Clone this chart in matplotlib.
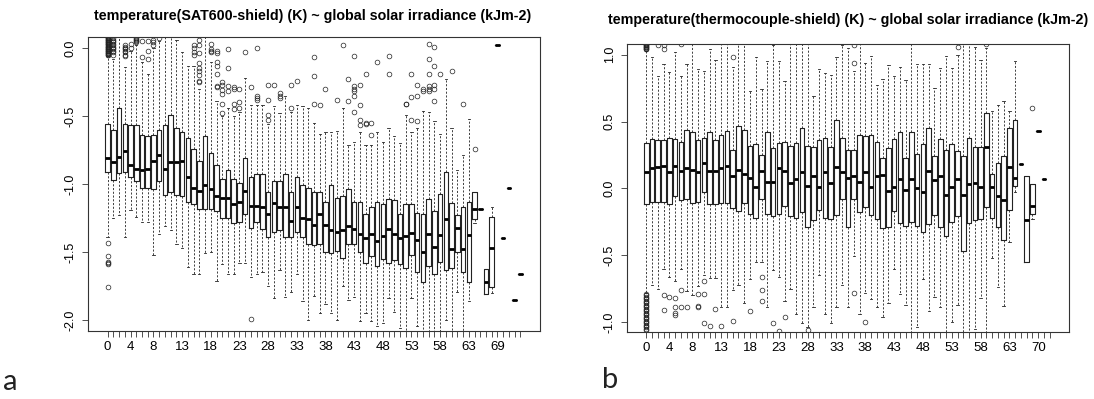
import matplotlib
matplotlib.use("Agg")
import matplotlib.pyplot as plt

plt.rcParams['font.family'] = ['Liberation Sans', 'DejaVu Sans']
plt.rcParams['axes.unicode_minus'] = False

# panel a: temperature(SAT600-shield) per irradiance level
a_levels = [str(v) for v in list(range(0, 68)) + [69, 70, 71, 72, 73]]
a_shown = ['0', '4', '8', '13', '18', '23', '28', '33', '38', '43', '48', '53', '58', '63', '69']
a_q3 = [-0.56, -0.60, -0.44, -0.56, -0.57, -0.57, -0.64, -0.65, -0.64, -0.60,
        -0.57, -0.49, -0.59, -0.62, -0.66, -0.74, -0.83, -0.65, -0.77, -0.86,
        -0.96, -0.90, -0.96, -0.99, -0.81, -0.95, -0.93, -0.93, -1.06, -0.98,
        -0.98, -0.93, -1.06, -0.95, -1.01, -1.03, -1.06, -1.06, -1.13, -1.01,
        -1.10, -1.09, -1.04, -1.13, -1.13, -1.22, -1.17, -1.13, -1.15, -1.11,
        -1.12, -1.22, -1.15, -1.15, -1.21, -1.22, -1.11, -1.20, -1.07, -0.91,
        -1.14, -1.23, -1.17, -1.13, -1.06, -1.18, -1.625, -1.24, 0.02, -1.40,
        -1.03, -1.85, -1.66]
a_med = [-0.81, -0.84, -0.80, -0.76, -0.86, -0.89, -0.90, -0.89, -0.83, -0.79,
         -0.89, -0.84, -0.84, -0.83, -0.95, -1.03, -1.05, -1.01, -1.04, -1.09,
         -1.10, -1.10, -1.15, -1.13, -1.05, -1.16, -1.16, -1.17, -1.22, -1.14,
         -1.17, -1.17, -1.27, -1.17, -1.25, -1.26, -1.30, -1.22, -1.30, -1.34,
         -1.35, -1.34, -1.31, -1.33, -1.37, -1.40, -1.37, -1.42, -1.38, -1.33,
         -1.37, -1.40, -1.38, -1.36, -1.41, -1.50, -1.37, -1.46, -1.375, -1.26,
         -1.48, -1.32, -1.48, -1.375, -1.18, -1.18, -1.72, -1.47, 0.02, -1.40,
         -1.03, -1.85, -1.66]
a_q1 = [-0.91, -0.97, -0.92, -0.91, -0.95, -0.98, -1.03, -1.03, -1.04, -0.98,
        -1.08, -1.06, -1.08, -1.09, -1.13, -1.15, -1.18, -1.18, -1.18, -1.20,
        -1.25, -1.25, -1.29, -1.28, -1.22, -1.32, -1.28, -1.33, -1.39, -1.35,
        -1.34, -1.39, -1.39, -1.35, -1.39, -1.44, -1.45, -1.44, -1.50, -1.51,
        -1.49, -1.54, -1.44, -1.44, -1.50, -1.58, -1.53, -1.60, -1.55, -1.58,
        -1.56, -1.59, -1.62, -1.52, -1.65, -1.72, -1.60, -1.66, -1.57, -1.63,
        -1.62, -1.50, -1.65, -1.72, -1.26, -1.18, -1.81, -1.76, 0.02, -1.40,
        -1.03, -1.85, -1.66]
a_lo = [-1.39, -1.25, -1.23, -1.39, -1.19, -1.24, -1.28, -1.28, -1.52, -1.37,
        -1.31, -1.34, -1.44, -1.47, -1.61, -1.66, -1.66, -1.51, -1.50, -1.71,
        -1.59, -1.66, -1.66, -1.58, -1.58, -1.68, -1.66, -1.65, -1.75, -1.84,
        -1.63, -1.83, -1.79, -1.66, -1.86, -2.00, -1.82, -1.95, -1.88, -1.95,
        -2.00, -1.75, -1.85, -1.83, -2.01, -1.95, -2.01, -2.04, -2.02, -1.84,
        -1.94, -2.06, -2.15, -1.84, -2.04, -2.15, -2.15, -2.15, -2.15, -2.00,
        -2.15, -1.79, -2.15, -1.86, -1.29, -1.18, -1.81, -1.80, 0.02, -1.40,
        -1.03, -1.85, -1.66]
a_hi = [-0.06, -0.08, 0.12, -0.14, -0.02, 0.02, -0.10, -0.19, 0.00, 0.05,
        0.12, 0.12, 0.06, -0.03, -0.13, -0.13, -0.30, 0.12, -0.10, -0.39,
        -0.50, -0.44, -0.50, -0.47, -0.22, -0.42, -0.42, -0.42, -0.56, -0.43,
        -0.48, -0.35, -0.47, -0.42, -0.43, -0.44, -0.55, -0.63, -0.62, -0.62,
        -0.61, -0.44, -0.71, -0.69, -0.62, -0.71, -0.71, -0.62, -0.69, -0.59,
        -0.65, -0.70, -0.49, -0.62, -0.59, -0.46, -0.47, -0.54, -0.63, -0.23,
        -0.59, -0.90, -0.79, -0.52, -1.06, -1.18, -1.625, -1.17, 0.02, -1.40,
        -1.03, -1.85, -1.66]
a_out = [
    [0.08, 0.075, 0.07, 0.065, 0.06, 0.055, 0.05, 0.045, 0.04, 0.035, 0.03, 0.025,
     0.02, 0.015, 0.01, 0.005, 0.0, -0.005, -0.01, -0.015, -0.02, -0.025, -0.03,
     -0.035, -0.04, -0.045, -0.05, -0.055,
     -1.43, -1.53, -1.57, -1.58, -1.59, -1.76],
    [0.07, 0.06, 0.05, 0.04, 0.03, 0.02, 0.01, 0.0, -0.01, -0.02, -0.03, -0.05],
    [],
    [0.02, 0.01, 0.0, -0.01, -0.02, -0.03, -0.05, -0.06],
    [0.03, 0.0],
    [0.07, 0.065, 0.06, 0.05, 0.04],
    [0.05, -0.07],
    [0.05, -0.02, -0.08],
    [0.06, 0.04, 0.02],
    [0.07],
    [], [], [], [], [],
    [0.02, 0.0, -0.03, -0.05],
    [0.06, 0.02, -0.04, -0.11, -0.15, -0.17, -0.20, -0.24, -0.25],
    [],
    [0.03, -0.01, -0.02, -0.03],
    [-0.02, -0.04, -0.10, -0.13, -0.19, -0.28, -0.29],
    [-0.25, -0.27, -0.31, -0.34, -0.41, -0.48],
    [-0.01, -0.15, -0.28, -0.32],
    [-0.29, -0.30, -0.41, -0.45],
    [-0.30, -0.40, -0.44],
    [-0.03],
    [-0.29, -1.99],
    [0.0, -0.35, -0.37, -0.38],
    [],
    [-0.27, -0.38, -0.49, -0.53],
    [-0.27],
    [-0.33, -0.35, -0.37],
    [],
    [-0.27, -0.44],
    [-0.24],
    [], [],
    [-0.07, -0.21, -0.41],
    [-0.42],
    [-0.30],
    [],
    [-0.38],
    [0.02],
    [-0.23, -0.39],
    [-0.06, -0.28, -0.30, -0.32, -0.35, -0.47],
    [-0.27, -0.42, -0.53, -0.57],
    [-0.19, -0.55, -0.56],
    [-0.55, -0.64],
    [-0.10],
    [],
    [-0.06, -0.19],
    [], [],
    [-0.41, -0.41],
    [-0.19, -0.36, -0.53],
    [-0.27, -0.35, -0.54],
    [-0.30, -0.32],
    [0.03, -0.08, -0.19, -0.28, -0.30, -0.32],
    [0.01, -0.13, -0.27, -0.30, -0.39],
    [-0.19],
    [],
    [-0.17],
    [],
    [-0.41],
    [],
    [-0.74],
    [], [], [], [], [], [], [], [],
]

# panel b: temperature(thermocouple-shield) per irradiance level (last level empty)
b_levels = [str(v) for v in list(range(0, 68)) + [70, 71, 72]]
b_shown = ['0', '4', '8', '13', '18', '23', '28', '33', '38', '43', '48', '53', '58', '63', '70']
b_q3 = [0.34, 0.37, 0.36, 0.36, 0.38, 0.37, 0.35, 0.44, 0.42, 0.36,
        0.38, 0.42, 0.36, 0.40, 0.43, 0.29, 0.47, 0.44, 0.32, 0.33,
        0.25, 0.42, 0.30, 0.34, 0.35, 0.32, 0.34, 0.45, 0.32, 0.31,
        0.36, 0.38, 0.31, 0.51, 0.38, 0.29, 0.29, 0.40, 0.39, 0.40,
        0.35, 0.23, 0.30, 0.37, 0.42, 0.23, 0.42, 0.26, 0.33, 0.45,
        0.24, 0.37, 0.29, 0.33, 0.28, 0.24, 0.38, 0.31, 0.31, 0.56,
        0.11, 0.19, 0.24, 0.45, 0.51, 0.18, 0.09, 0.03, 0.43, 0.07, None]
b_med = [0.12, 0.15, 0.16, 0.17, 0.12, 0.17, 0.13, 0.15, 0.14, 0.12,
         0.19, 0.13, 0.13, 0.15, 0.17, 0.09, 0.14, 0.11, 0.08, 0.01,
         0.13, 0.05, 0.05, 0.15, 0.13, 0.04, 0.07, 0.12, 0.02, 0.09,
         0.01, 0.12, 0.04, 0.16, 0.12, 0.08, 0.09, 0.05, 0.12, 0.01,
         0.09, 0.10, -0.02, 0.01, 0.07, -0.01, 0.07, 0.00, -0.03, 0.13,
         0.06, 0.09, -0.05, 0.01, 0.07, -0.05, 0.03, 0.04, 0.01, 0.31,
         0.01, -0.06, -0.09, 0.16, 0.08, 0.18, -0.24, -0.13, 0.43, 0.07, None]
b_q1 = [-0.12, -0.10, -0.10, -0.10, -0.12, -0.06, -0.09, -0.08, -0.11, -0.10,
        -0.03, -0.12, -0.12, -0.11, -0.11, -0.15, -0.17, -0.11, -0.19, -0.22,
        -0.08, -0.19, -0.21, -0.19, -0.13, -0.21, -0.22, -0.18, -0.29, -0.24,
        -0.16, -0.22, -0.23, -0.20, -0.08, -0.29, -0.08, -0.18, -0.14, -0.20,
        -0.23, -0.30, -0.29, -0.17, -0.26, -0.28, -0.25, -0.28, -0.33, -0.27,
        -0.20, -0.29, -0.36, -0.25, -0.21, -0.47, -0.26, -0.24, -0.23, -0.14,
        -0.22, -0.29, -0.39, -0.16, 0.02, 0.18, -0.55, -0.19, 0.43, 0.07, None]
b_lo = [-0.78, -0.72, -0.75, -0.60, -0.66, -0.69, -0.60, -0.77, -0.80, -0.73,
        -0.65, -0.67, -0.67, -0.89, -0.89, -0.76, -0.72, -0.86, -0.68, -0.55,
        -0.55, -0.89, -0.61, -0.66, -0.84, -0.75, -0.94, -1.01, -1.04, -0.89,
        -0.65, -0.94, -1.01, -0.89, -0.72, -0.89, -0.51, -0.94, -0.78, -0.83,
        -0.89, -0.96, -0.86, -0.60, -0.79, -0.87, -1.10, -1.04, -0.68, -0.92,
        -0.81, -0.89, -1.10, -1.00, -0.87, -1.10, -1.10, -1.05, -0.82, -1.10,
        -0.52, -0.74, -0.88, -0.40, -0.03, 0.18, -0.55, -0.23, 0.43, 0.07, None]
b_hi = [1.03, 0.98, 0.84, 0.93, 0.87, 1.02, 0.84, 0.93, 1.10, 0.89,
        0.88, 1.04, 0.96, 1.10, 1.10, 0.91, 1.10, 1.10, 0.73, 0.98,
        0.74, 0.95, 1.07, 0.95, 0.80, 1.10, 1.10, 1.10, 1.10, 0.69,
        0.89, 0.86, 0.85, 0.98, 1.07, 1.05, 0.88, 1.10, 0.94, 0.99,
        0.77, 0.82, 0.92, 0.84, 0.91, 0.81, 1.10, 0.93, 0.93, 0.93,
        0.75, 0.90, 0.99, 0.90, 1.00, 1.10, 1.10, 1.06, 0.96, 1.05,
        0.58, 0.62, 0.65, 0.58, 0.95, 0.18, 0.09, 0.03, 0.43, 0.07, None]
b_out = [
    [1.04, 1.045, 1.05, 1.055, 1.06, 1.065, 1.07, 1.075, 1.08,
     -0.79, -0.80, -0.81, -0.82, -0.83, -0.84, -0.85, -0.86, -0.87, -0.88, -0.89,
     -0.90, -0.91, -0.92, -0.93, -0.94, -0.95, -0.96, -0.97, -0.98, -0.99, -1.00,
     -1.01, -1.02, -1.03, -1.04, -1.05, -1.06],
    [],
    [1.07],
    [1.07, 1.04, -0.80, -0.91],
    [-0.81],
    [-0.82, -0.89, -0.93, -0.95],
    [1.08, -0.76, -0.89],
    [-0.89],
    [],
    [-0.79, -0.88, -0.89],
    [-0.69, -0.79, -1.01],
    [-1.03],
    [-0.90],
    [-1.03],
    [],
    [0.98, -0.99],
    [], [],
    [-0.92],
    [],
    [-0.66, -0.76, -0.84],
    [],
    [-1.01],
    [-1.07],
    [-0.96],
    [], [], [],
    [-1.06],
    [], [], [], [], [], [], [],
    [1.07, 0.94, -0.78],
    [],
    [-1.00],
    [], [], [], [], [], [], [], [], [], [], [], [], [], [], [],
    [1.06],
    [], [], [], [],
    [1.08],
    [], [], [], [], [], [], [],
    [0.60],
    [], [], [],
]


def draw_panel(ax, levels, shown, q1, med, q3, lo, hi, out, ylim, yticks):
    stats, pos = [], []
    for i in range(len(levels)):
        if med[i] is None:
            continue
        stats.append(dict(med=med[i], q1=q1[i], q3=q3[i],
                          whislo=lo[i], whishi=hi[i], fliers=out[i]))
        pos.append(i + 1)
    ax.bxp(stats, positions=pos, widths=0.8, capwidths=0.4,
           boxprops=dict(color='#222222', lw=0.8),
           whiskerprops=dict(color='#222222', lw=0.6, linestyle=(0, (2.5, 2))),
           capprops=dict(color='#222222', lw=0.6),
           medianprops=dict(color='black', lw=2.0, solid_capstyle='butt'),
           flierprops=dict(marker='o', ms=3.4, mfc='none', mec='#222222', mew=0.5),
           manage_ticks=False)
    n = len(levels)
    ax.set_xlim(0.5 - 0.04 * n, n + 0.5 + 0.04 * n)
    ax.set_ylim(*ylim)
    ax.set_xticks(range(1, n + 1))
    ax.set_xticklabels([s if s in shown else '' for s in levels], fontsize=9.5)
    ax.set_yticks(yticks)
    ax.set_yticklabels(['%.1f' % v for v in yticks], rotation=90, va='center', fontsize=9)
    ax.tick_params(direction='out', length=4, width=0.6, color='#333333')
    ax.tick_params(axis='x', pad=3)
    ax.tick_params(axis='y', pad=4)
    for s in ax.spines.values():
        s.set_linewidth(0.8)
        s.set_color('#333333')


fig = plt.figure(figsize=(10.94, 3.99), dpi=100)
ax_a = fig.add_axes([88 / 1094, 68 / 399, 452 / 1094, 294 / 399])
ax_b = fig.add_axes([627 / 1094, 67 / 399, 442 / 1094, 288 / 399])

draw_panel(ax_a, a_levels, a_shown, a_q1, a_med, a_q3, a_lo, a_hi, a_out,
           (-2.08, 0.08), [-2.0, -1.5, -1.0, -0.5, 0.0])
draw_panel(ax_b, b_levels, b_shown, b_q1, b_med, b_q3, b_lo, b_hi, b_out,
           (-1.075, 1.08), [-1.0, -0.5, 0.0, 0.5, 1.0])

fig.text(313 / 1094, 1 - 16 / 399,
         'temperature(SAT600-shield) (K) ~ global solar irradiance (kJm-2)',
         ha='center', va='center', fontsize=10.3, fontweight='bold')
fig.text(848 / 1094, 1 - 20 / 399,
         'temperature(thermocouple-shield) (K) ~ global solar irradiance (kJm-2)',
         ha='center', va='center', fontsize=10.3, fontweight='bold')

fig.text(3 / 1094, 1 - 382 / 399, 'a', ha='left', va='center', fontsize=21,
         family=['Lato', 'DejaVu Sans'], color='#222222')
fig.text(602 / 1094, 1 - 380 / 399, 'b', ha='left', va='center', fontsize=21,
         family=['Lato', 'DejaVu Sans'], color='#222222')

fig.savefig('out.png', dpi=100)
